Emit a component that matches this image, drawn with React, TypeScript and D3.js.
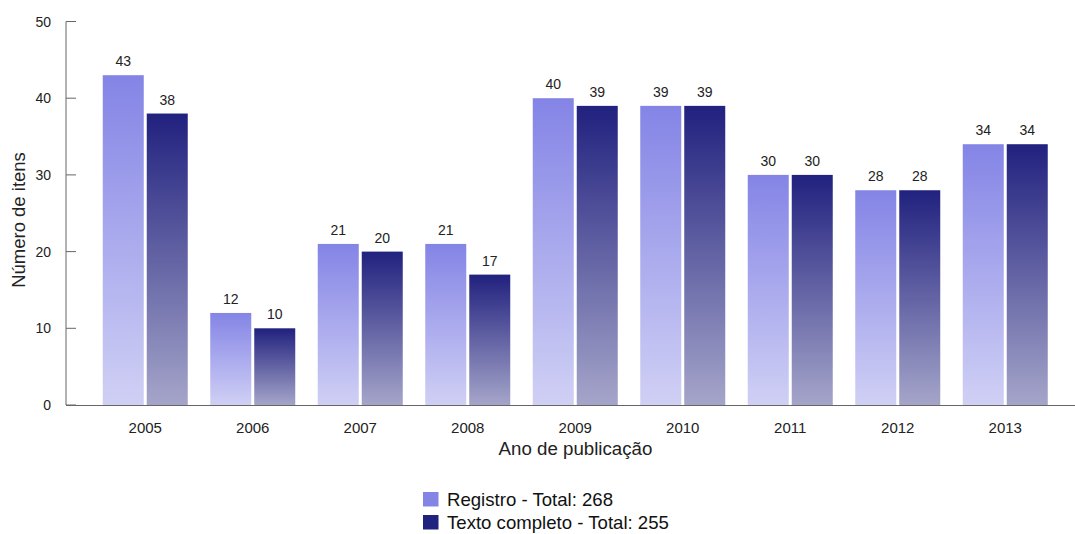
import React from "react";
import * as d3 from "d3";

const years = ["2005", "2006", "2007", "2008", "2009", "2010", "2011", "2012", "2013"];
const registro = [43, 12, 21, 21, 40, 39, 30, 28, 34];
const textoCompleto = [38, 10, 20, 17, 39, 39, 30, 28, 34];
const seriesNames = ["Registro - Total: 268", "Texto completo - Total: 255"];
const yTicks = [0, 10, 20, 30, 40, 50];

const W = 1075;
const H = 534;
const axisLeft = 66;
const axisRight = 1075;
const top = 21.5;
const bottom = 405;
const font = "'Liberation Sans', Arial, sans-serif";

const colors = [
  { top: "#8484e6", bottom: "#d0d0f5" },
  { top: "#21217f", bottom: "#a5a5ca" },
];

export default function App() {
  const x = d3.scaleBand<string>().domain(years).range([91.5, 1059]).padding(0);
  const y = d3.scaleLinear().domain([0, 50]).range([bottom, top]);
  const inner = d3.scaleBand<number>().domain([0, 1]).range([-42.5, 42.5]).paddingInner(0.068).paddingOuter(0);
  const data = [registro, textoCompleto];
  const bw = inner.bandwidth();

  return (
    <svg width={W} height={H} style={{ position: "absolute", left: 0, top: 0, fontFamily: font }}>
      <defs>
        {colors.map((c, i) => (
          <linearGradient key={i} id={`g${i}`} x1="0" y1="0" x2="0" y2="1">
            <stop offset="0" stopColor={c.top} />
            <stop offset="1" stopColor={c.bottom} />
          </linearGradient>
        ))}
      </defs>
      {data.map((vals, si) =>
        vals.map((v, i) => {
          const cx = (x(years[i]) ?? 0) + x.bandwidth() / 2;
          const bx = cx + (inner(si) ?? 0);
          return (
            <g key={`${si}-${i}`}>
              <rect x={bx} y={y(v)} width={bw} height={bottom - y(v)} fill={`url(#g${si})`} />
              <text x={bx + bw / 2} y={y(v) - 9} textAnchor="middle" fontSize={14} fill="#222">
                {v}
              </text>
            </g>
          );
        })
      )}
      {/* y axis */}
      <line x1={axisLeft} x2={axisLeft} y1={top} y2={bottom} stroke="#666" strokeWidth={1} />
      {yTicks.map((t) => (
        <g key={t}>
          <line x1={axisLeft} x2={axisLeft + 10} y1={y(t)} y2={y(t)} stroke="#666" />
          <text x={51} y={y(t) + 5} textAnchor="end" fontSize={14} fill="#222">
            {t}
          </text>
        </g>
      ))}
      {/* x axis */}
      <line x1={axisLeft} x2={axisRight} y1={bottom + 0.5} y2={bottom + 0.5} stroke="#666" strokeWidth={1} />
      {years.map((yr) => (
        <text key={yr} x={(x(yr) ?? 0) + x.bandwidth() / 2} y={433} textAnchor="middle" fontSize={15} fill="#222">
          {yr}
        </text>
      ))}
      <text x={575.5} y={455} textAnchor="middle" fontSize={18.7} fill="#222">
        Ano de publicação
      </text>
      <text transform={`translate(25, 220) rotate(-90)`} textAnchor="middle" fontSize={18.5} fill="#222">
        Número de itens
      </text>
      {/* legend */}
      {seriesNames.map((n, i) => (
        <g key={n}>
          <rect x={423} y={492 + i * 23} width={15.5} height={14.5} fill={colors[i].top} />
          <text x={447} y={506 + i * 23} fontSize={18.6} fill="#111">
            {n}
          </text>
        </g>
      ))}
    </svg>
  );
}
